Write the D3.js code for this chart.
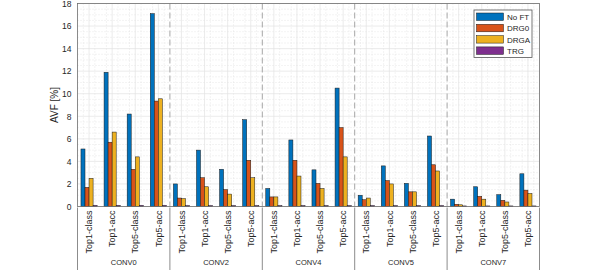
<!DOCTYPE html>
<html>
<head>
<meta charset="utf-8">
<script src="https://cdn.jsdelivr.net/npm/d3@7"></script>
<style>
  body { margin: 0; background: #fff; }
  text { font-family: "Liberation Sans", Arial, sans-serif; fill: #262626; }
</style>
</head>
<body>
<svg id="chart" width="595" height="270"></svg>
<script>
const layers = ["CONV0", "CONV2", "CONV4", "CONV5", "CONV7"];
const metrics = ["Top1-class", "Top1-acc", "Top5-class", "Top5-acc"];
const series = ["No FT", "DRG0", "DRGA", "TRG"];
const colors = ["#0072BD", "#D95319", "#EDB120", "#7E2F8E"];
const yTicks = [0, 2, 4, 6, 8, 10, 12, 14, 16, 18];

// one array per series, ordered layer by layer, metric by metric
const noFT = [5.1, 11.9, 8.2, 17.1, 2.0, 5.0, 3.3, 7.7, 1.6, 5.9, 3.25, 10.5, 1.0, 3.6, 2.05, 6.25, 0.65, 1.75, 1.05, 2.9];
const drg0 = [1.7, 5.7, 3.3, 9.35, 0.75, 2.55, 1.5, 4.1, 0.85, 4.1, 2.05, 7.0, 0.6, 2.3, 1.3, 3.7, 0.2, 0.9, 0.55, 1.45];
const drga = [2.5, 6.6, 4.4, 9.55, 0.7, 1.75, 1.1, 2.55, 0.85, 2.7, 1.6, 4.4, 0.75, 2.0, 1.3, 3.15, 0.15, 0.65, 0.4, 1.15];
const trg = [0.1, 0.1, 0.1, 0.1, 0.08, 0.08, 0.08, 0.08, 0.08, 0.08, 0.08, 0.08, 0.08, 0.08, 0.08, 0.08, 0.05, 0.05, 0.05, 0.05];
const values = [noFT, drg0, drga, trg];

let svg = d3.select("#chart");
let pLeft = 77.5, pRight = 539.5, pTop = 3.5, pBottom = 206.5;

let keys = [];
layers.forEach(function (l) {
  metrics.forEach(function (m) { keys.push(l + "|" + m); });
});

let xScale = d3.scaleBand().domain(keys).range([pLeft, pRight]).paddingInner(0.3).paddingOuter(0.15);
let sScale = d3.scaleBand().domain(series).range([0, xScale.bandwidth()]);
let yScale = d3.scaleLinear().domain([0, 18]).range([pBottom, pTop]);
let step = xScale.step();

// grid
let grid = svg.append("g");
d3.range(0, 18.01, 0.5).forEach(function (v) {
  if (v % 2 === 0) return;
  grid.append("line").attr("x1", pLeft).attr("x2", pRight)
    .attr("y1", yScale(v)).attr("y2", yScale(v))
    .attr("stroke", "#d6d6d6").attr("stroke-width", 0.6).attr("stroke-dasharray", "1,2");
});
keys.forEach(function (k) {
  let c = xScale(k) + xScale.bandwidth() / 2;
  [-0.25, 0.25].forEach(function (f) {
    grid.append("line").attr("x1", c + f * step).attr("x2", c + f * step)
      .attr("y1", pTop).attr("y2", pBottom)
      .attr("stroke", "#d6d6d6").attr("stroke-width", 0.6).attr("stroke-dasharray", "1,2");
  });
});
yTicks.forEach(function (v) {
  grid.append("line").attr("x1", pLeft).attr("x2", pRight)
    .attr("y1", yScale(v)).attr("y2", yScale(v))
    .attr("stroke", "#e3e3e3").attr("stroke-width", 0.7);
});
keys.forEach(function (k) {
  let c = xScale(k) + xScale.bandwidth() / 2;
  grid.append("line").attr("x1", c).attr("x2", c).attr("y1", pTop).attr("y2", pBottom)
    .attr("stroke", "#e3e3e3").attr("stroke-width", 0.7);
});

// group separators (dashed inside plot)
for (let i = 1; i < layers.length; i++) {
  let x = xScale(keys[i * 4]) - step * xScale.paddingInner() / 2;
  svg.append("line").attr("x1", x).attr("x2", x).attr("y1", pTop).attr("y2", pBottom)
    .attr("stroke", "#a6a6a6").attr("stroke-width", 1).attr("stroke-dasharray", "6,3");
}

// bars
series.forEach(function (s, si) {
  svg.append("g").selectAll("rect")
    .data(values[si])
    .enter()
    .append("rect")
    .attr("x", function (d, i) { return xScale(keys[i]) + sScale(s); })
    .attr("y", function (d) { return yScale(d); })
    .attr("width", sScale.bandwidth())
    .attr("height", function (d) { return yScale(0) - yScale(d); })
    .attr("fill", colors[si])
    .attr("stroke", "#1a1a1a")
    .attr("stroke-width", 0.5);
});

// axes
let y_axis = d3.axisLeft(yScale).tickValues(yTicks).tickSize(0).tickPadding(6);
let ya = svg.append("g").attr("transform", `translate(${pLeft},0)`).call(y_axis);
ya.select(".domain").remove();
ya.selectAll("text").style("font-size", "8.5px").attr("fill", "#262626");

svg.append("rect").attr("x", pLeft).attr("y", pTop).attr("width", pRight - pLeft).attr("height", pBottom - pTop)
  .attr("fill", "none").attr("stroke", "#6e6e6e").attr("stroke-width", 0.8);

// x tick labels
keys.forEach(function (k) {
  let c = xScale(k) + xScale.bandwidth() / 2;
  svg.append("text")
    .attr("transform", `translate(${c + 3.2},${pBottom + 4}) rotate(-90)`)
    .attr("text-anchor", "end")
    .style("font-size", "9px")
    .text(k.split("|")[1]);
});

// group labels and lower separators
for (let i = 0; i <= layers.length; i++) {
  let x = i < layers.length
    ? xScale(keys[i * 4]) - step * xScale.paddingInner() / 2
    : pRight;
  if (i === 0) x = pLeft;
  svg.append("line").attr("x1", x).attr("x2", x).attr("y1", pBottom + 1).attr("y2", 270)
    .attr("stroke", "#8c8c8c").attr("stroke-width", 1);
}
layers.forEach(function (l, i) {
  let c0 = xScale(keys[i * 4]), c1 = xScale(keys[i * 4 + 3]) + xScale.bandwidth();
  svg.append("text").attr("x", (c0 + c1) / 2).attr("y", 265)
    .attr("text-anchor", "middle").style("font-size", "7.5px").text(l);
});

// y label
svg.append("text")
  .attr("transform", `translate(${58},${(pTop + pBottom) / 2}) rotate(-90)`)
  .attr("text-anchor", "middle")
  .style("font-size", "10px")
  .text("AVF [%]");

// legend
let lg = svg.append("g").attr("transform", "translate(474,10)");
lg.append("rect").attr("width", 58).attr("height", 47.5)
  .attr("fill", "#fff").attr("stroke", "#555").attr("stroke-width", 0.8);
series.forEach(function (s, i) {
  let row = lg.append("g").attr("transform", `translate(2.5,${3 + i * 11.3})`);
  row.append("rect").attr("width", 27).attr("height", 7.5)
    .attr("fill", colors[i]).attr("stroke", "#1a1a1a").attr("stroke-width", 0.5);
  row.append("text").attr("x", 30.5).attr("y", 7).style("font-size", "8px").text(s);
});
</script>
</body>
</html>
